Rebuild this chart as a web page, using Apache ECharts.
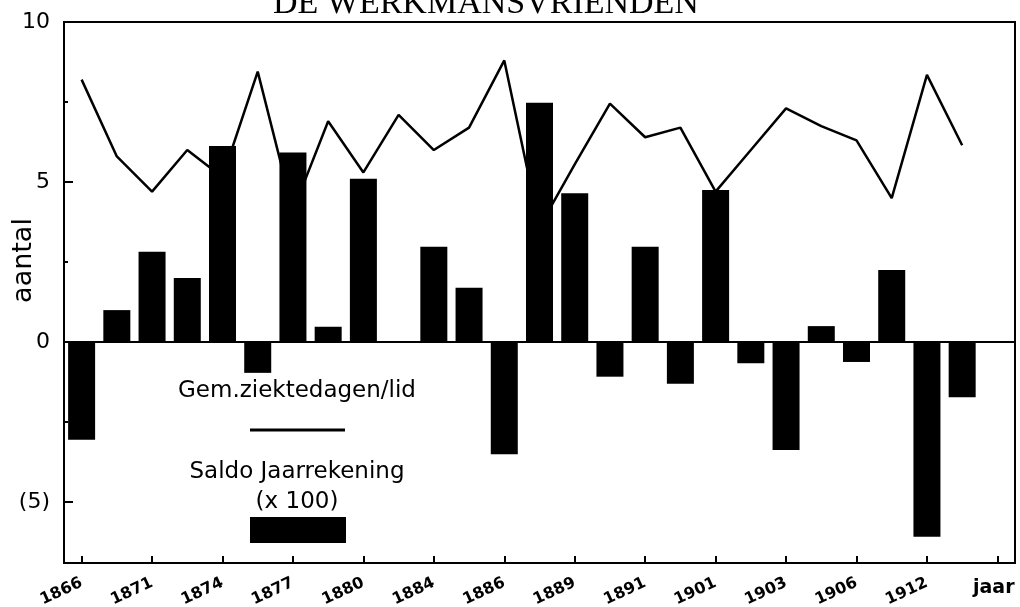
<!DOCTYPE html>
<html>
<head>
<meta charset="utf-8">
<script src="https://cdn.jsdelivr.net/npm/echarts@6/dist/echarts.min.js"></script>
<style>html,body{margin:0;padding:0;background:#fff;}#c{width:1020px;height:607px;}</style>
</head>
<body>
<div id="c"></div>
<script>
// ---- data ----
const yearLabels = ['1866','1871','1874','1877','1880','1884','1886','1889','1891','1901','1903','1906','1912',''];
const xAxisName = 'jaar';
const saldo = [-3.05, 1.0, 2.82, 2.0, 6.13, -0.96, 5.92, 0.48, 5.1, 0, 2.98, 1.7, -3.5,
               7.48, 4.65, -1.08, 2.98, -1.3, 4.75, -0.66, -3.37, 0.5, -0.62, 2.25, -6.08, -1.72];
const ziektedagen = [8.2, 5.8, 4.7, 6.0, 5.15, 8.45, 4.1, 6.9, 5.3, 7.1, 6.0, 6.7, 8.8,
                     3.6, 5.55, 7.45, 6.4, 6.7, 4.7, 6.0, 7.3, 6.75, 6.3, 4.5, 8.35, 6.15];
const yMajorTicks = [-5, 0, 5, 10];
const yMinorTicks = [-2.5, 2.5, 7.5];
const titleText = 'DE WERKMANSVRIENDEN';
const yName = 'aantal';
const legendLine = 'Gem.ziektedagen/lid';
const legendBar1 = 'Saldo Jaarrekening';
const legendBar2 = '(x 100)';

// build 27 categories: labels on every other slot
const categories = [];
for (let i = 0; i < 27; i++) categories.push(i % 2 === 0 ? yearLabels[i / 2] : '');

const FONT = '"DejaVu Sans", sans-serif';
const chart = echarts.init(document.getElementById('c'), null, {renderer: 'canvas'});
const yMin = -6.9, yMax = 10;

chart.setOption({
  animation: false,
  backgroundColor: '#fff',
  title: {
    text: titleText, left: 268, top: -18,
    textStyle: {fontFamily: '"Liberation Serif", serif', fontWeight: 'normal', fontSize: 34, color: '#000'}
  },
  grid: {show: true, borderColor: '#000', borderWidth: 2, backgroundColor: '#fff',
         left: 64, right: 5, top: 22, bottom: 44, containLabel: false, outerBoundsMode: 'none'},
  xAxis: {
    type: 'category', data: categories, boundaryGap: true,
    name: xAxisName, nameLocation: 'end', nameGap: -42, nameMoveOverlap: false,
    nameTextStyle: {fontFamily: FONT, fontWeight: 'bold', fontSize: 19, color: '#000',
                    align: 'left', verticalAlign: 'top', padding: [16, 0, 0, 0]},
    axisLine: {show: true, onZero: false, lineStyle: {color: '#000', width: 2}},
    axisTick: {show: true, inside: true, length: 7, alignWithLabel: true,
               interval: (i) => i % 2 === 0, lineStyle: {color: '#000', width: 2}},
    axisLabel: {show: true, interval: (i) => i % 2 === 0, rotate: 25, margin: 19,
                fontFamily: FONT, fontWeight: 'bold', fontSize: 16, color: '#000'},
    splitLine: {show: false}
  },
  yAxis: [{
    type: 'value', min: yMin, max: yMax,
    name: yName, nameLocation: 'middle', nameGap: 27, nameRotate: 90, nameMoveOverlap: false,
    nameTextStyle: {fontFamily: FONT, fontSize: 27, color: '#000', padding: [0, 0, 0, 64]},
    axisLine: {show: true, lineStyle: {color: '#000', width: 2}},
    axisTick: {show: true, inside: true, length: 9, customValues: yMajorTicks, lineStyle: {color: '#000', width: 2}},
    axisLabel: {show: true, customValues: yMajorTicks, margin: 14,
                formatter: (v) => v < 0 ? '(' + (-v) + ')' : String(v),
                fontFamily: FONT, fontSize: 22, color: '#000'},
    splitLine: {show: false}
  }, {
    type: 'value', min: yMin, max: yMax, position: 'left',
    axisLine: {show: false},
    axisTick: {show: true, inside: true, length: 4, customValues: yMinorTicks, lineStyle: {color: '#000', width: 2}},
    axisLabel: {show: false},
    splitLine: {show: false}
  }],
  series: [{
    type: 'bar', name: 'saldo', data: saldo, barWidth: 27,
    itemStyle: {color: '#000'},
    markLine: {
      silent: true, symbol: 'none', label: {show: false},
      lineStyle: {color: '#000', width: 2, type: 'solid'},
      data: [{yAxis: 0}]
    }
  }, {
    type: 'line', name: 'ziekte', data: ziektedagen, symbol: 'none',
    lineStyle: {color: '#000', width: 2.5}, z: 1
  }],
  graphic: [
    {type: 'text', x: 297, y: 391, style: {text: legendLine, fontFamily: FONT, fontSize: 23, fill: '#000', align: 'center', verticalAlign: 'middle'}},
    {type: 'line', shape: {x1: 250, y1: 430, x2: 345, y2: 430}, style: {stroke: '#000', lineWidth: 3}},
    {type: 'text', x: 297, y: 472, style: {text: legendBar1, fontFamily: FONT, fontSize: 23, fill: '#000', align: 'center', verticalAlign: 'middle'}},
    {type: 'text', x: 297, y: 502, style: {text: legendBar2, fontFamily: FONT, fontSize: 23, fill: '#000', align: 'center', verticalAlign: 'middle'}},
    {type: 'rect', shape: {x: 250, y: 517, width: 96, height: 26}, style: {fill: '#000'}}
  ]
});
</script>
</body>
</html>
